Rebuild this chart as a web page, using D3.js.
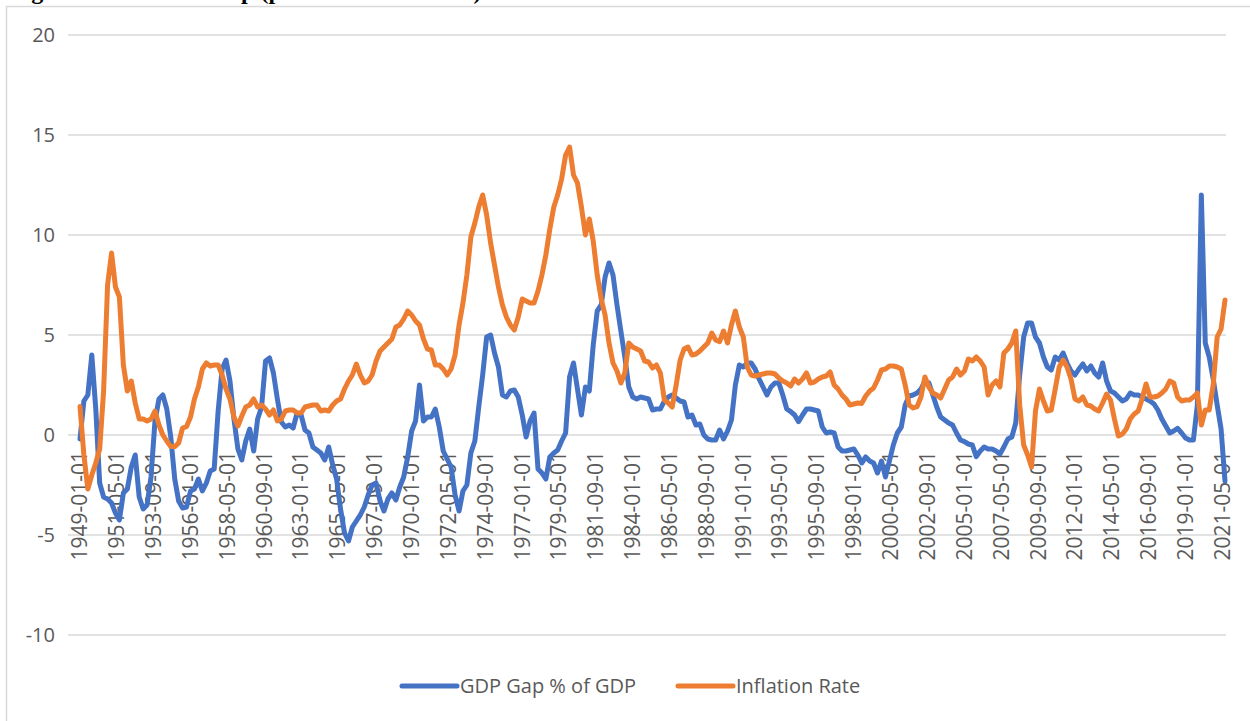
<!DOCTYPE html>
<meta charset="utf-8">
<style>

body {
  margin: 0;
  background: #fff;
}

text {
  font-family: "Open Sans", sans-serif;
  fill: #595959;
}

.title {
  font-family: "Liberation Serif", serif;
  font-weight: bold;
  fill: #000;
}

.grid line {
  stroke: #d9d9d9;
  stroke-width: 1.5;
}

.series {
  fill: none;
  stroke-width: 5;
  stroke-linejoin: round;
  stroke-linecap: round;
}

</style>
<svg width="1250" height="721"></svg>
<script src="https://d3js.org/d3.v7.min.js"></script>

<script>

// quarterly series, first quarter = startDate
var startDate = "1949-01-01";

var gdpGap = [
  -0.2, 1.7, 2.0, 4.0, 1.3, -2.4, -3.1, -3.2, -3.4, -3.9,
  -4.25, -2.9, -2.7, -1.6, -1.0, -3.1, -3.7, -3.5, -2.1, 0.7,
  1.8, 2.0, 1.3, -0.1, -2.2, -3.3, -3.65, -3.6, -2.8, -2.7,
  -2.2, -2.8, -2.4, -1.8, -1.7, 1.2, 3.3, 3.75, 2.7, 0.8,
  -0.7, -1.25, -0.3, 0.3, -0.8, 0.8, 1.4, 3.7, 3.85, 3.1,
  1.8, 0.65, 0.4, 0.5, 0.35, 1.1, 1.0, 0.25, 0.1, -0.6,
  -0.75, -0.9, -1.25, -0.6, -1.5, -2.2, -3.7, -4.9, -5.3, -4.6,
  -4.3, -4.0, -3.6, -3.0, -2.5, -2.4, -3.3, -3.8, -3.2, -2.9,
  -3.25, -2.6, -2.1, -1.1, 0.2, 0.7, 2.5, 0.7, 0.9, 0.9,
  1.3, 0.4, -0.8, -1.2, -1.6, -3.0, -3.8, -2.8, -2.5, -0.9,
  -0.3, 1.4, 3.0, 4.9, 5.0, 4.1, 3.4, 2.0, 1.9, 2.2,
  2.25, 1.9, 1.0, -0.1, 0.7, 1.1, -1.7, -1.9, -2.2, -1.1,
  -0.9, -0.75, -0.3, 0.1, 2.9, 3.6, 2.3, 1.0, 2.4, 2.2,
  4.5, 6.2, 6.5, 7.9, 8.6, 8.0, 6.5, 5.2, 3.9, 2.4,
  1.9, 1.8, 1.9, 1.85, 1.8, 1.25, 1.3, 1.3, 1.7, 1.9,
  2.0, 1.85, 1.7, 1.65, 0.9, 1.0, 0.5, 0.55, 0.0, -0.2,
  -0.25, -0.25, 0.25, -0.2, 0.2, 0.75, 2.5, 3.5, 3.4, 3.6,
  3.6, 3.3, 2.8, 2.4, 2.0, 2.4, 2.6, 2.6, 2.0, 1.3,
  1.17, 1.0, 0.67, 1.0, 1.3, 1.3, 1.25, 1.2, 0.4, 0.1,
  0.15, 0.1, -0.6, -0.8, -0.8, -0.75, -0.7, -1.0, -1.4, -1.1,
  -1.3, -1.4, -1.9, -1.3, -2.1, -1.3, -0.5, 0.1, 0.4, 1.5,
  1.95, 2.0, 2.1, 2.3, 2.7, 2.6, 2.0, 1.4, 0.9, 0.75,
  0.6, 0.5, 0.1, -0.25, -0.33, -0.45, -0.5, -1.08, -0.8, -0.6,
  -0.7, -0.7, -0.8, -0.95, -0.6, -0.2, -0.1, 0.6, 3.0, 4.9,
  5.6, 5.6, 4.9, 4.6, 3.9, 3.4, 3.25, 3.9, 3.75, 4.1,
  3.6, 3.2, 3.0, 3.3, 3.55, 3.2, 3.45, 3.1, 2.9, 3.6,
  2.7, 2.2, 2.1, 1.9, 1.7, 1.8, 2.1, 2.0, 2.0, 1.9,
  1.8, 1.7, 1.55, 1.25, 0.8, 0.45, 0.1, 0.2, 0.33, 0.1,
  -0.15, -0.25, -0.25, 1.5, 12.0, 4.6, 3.9, 2.8, 1.5, 0.3,
  -2.3
];

var inflation = [
  1.42, -1.0, -2.7, -2.0, -1.4, -0.7, 2.2, 7.5, 9.1, 7.4,
  6.9, 3.5, 2.2, 2.7, 1.6, 0.8, 0.8, 0.7, 0.8, 1.2,
  0.5, 0.0, -0.3, -0.58, -0.58, -0.4, 0.35, 0.42, 0.9, 1.8,
  2.4, 3.3, 3.6, 3.45, 3.5, 3.5, 3.0, 2.3, 1.8, 0.9,
  0.45, 0.95, 1.4, 1.5, 1.8, 1.4, 1.5, 1.3, 1.0, 1.25,
  0.7, 0.8, 1.2, 1.25, 1.25, 1.1, 1.1, 1.4, 1.45, 1.5,
  1.5, 1.2, 1.25, 1.2, 1.5, 1.7, 1.8, 2.3, 2.7, 3.0,
  3.55, 3.0, 2.6, 2.7, 3.0, 3.7, 4.2, 4.4, 4.6, 4.8,
  5.4, 5.5, 5.8, 6.2, 6.0, 5.7, 5.5, 4.8, 4.3, 4.25,
  3.5, 3.5, 3.3, 3.0, 3.3, 4.0, 5.5, 6.6, 8.0, 9.9,
  10.6, 11.4, 12.0, 11.0, 9.6, 8.5, 7.4, 6.5, 5.9, 5.5,
  5.25, 5.9, 6.8, 6.7, 6.6, 6.6, 7.2, 8.0, 9.0, 10.3,
  11.4, 12.0, 12.8, 14.0, 14.4, 13.0, 12.6, 11.4, 10.0, 10.8,
  9.7, 8.0, 6.8, 6.0, 4.6, 3.6, 3.2, 2.6, 3.1, 4.6,
  4.4, 4.3, 4.2, 3.7, 3.65, 3.35, 3.5, 3.1, 1.75, 1.6,
  1.4, 2.5, 3.75, 4.3, 4.4, 4.0, 4.05, 4.2, 4.4, 4.6,
  5.1, 4.75, 4.67, 5.2, 4.6, 5.5, 6.2, 5.4, 4.9, 3.4,
  3.0, 2.95, 3.0, 3.05, 3.1, 3.1, 3.05, 2.85, 2.7, 2.6,
  2.45, 2.8, 2.6, 2.8, 3.1, 2.6, 2.65, 2.8, 2.9, 2.95,
  3.15, 2.5, 2.3, 2.0, 1.8, 1.5, 1.55, 1.6, 1.58, 1.95,
  2.2, 2.35, 2.75, 3.25, 3.3, 3.45, 3.45, 3.4, 3.3, 2.5,
  1.5, 1.35, 1.42, 1.9, 2.9, 2.4, 2.1, 2.0, 1.85, 2.3,
  2.75, 2.9, 3.3, 3.0, 3.2, 3.8, 3.7, 3.9, 3.7, 3.4,
  2.0, 2.5, 2.7, 2.4, 4.1, 4.3, 4.6, 5.2, 1.5, -0.5,
  -1.0, -1.6, 1.2, 2.3, 1.7, 1.2, 1.25, 2.3, 3.4, 3.75,
  3.4, 2.8, 1.8, 1.7, 1.9, 1.5, 1.45, 1.3, 1.2, 1.6,
  2.05, 1.75, 0.8, -0.05, 0.05, 0.3, 0.8, 1.05, 1.2, 1.8,
  2.55, 1.9, 1.9, 1.95, 2.1, 2.3, 2.7, 2.6, 1.9, 1.7,
  1.75, 1.75, 1.9, 2.1, 0.5, 1.25, 1.25, 2.5, 4.9, 5.3,
  6.75
];

var seriesNames = ["GDP Gap % of GDP", "Inflation Rate"];
var seriesColors = ["#4472c4", "#ed7d31"];

var yTicks = [-10, -5, 0, 5, 10, 15, 20];

var xTickLabels = ["1949-01-01", "1951-05-01", "1953-09-01", "1956-01-01", "1958-05-01",
  "1960-09-01", "1963-01-01", "1965-05-01", "1967-09-01", "1970-01-01", "1972-05-01",
  "1974-09-01", "1977-01-01", "1979-05-01", "1981-09-01", "1984-01-01", "1986-05-01",
  "1988-09-01", "1991-01-01", "1993-05-01", "1995-09-01", "1998-01-01", "2000-05-01",
  "2002-09-01", "2005-01-01", "2007-05-01", "2009-09-01", "2012-01-01", "2014-05-01",
  "2016-09-01", "2019-01-01", "2021-05-01"];


var svg = d3.select("svg"),
    width = +svg.attr("width"),
    height = +svg.attr("height");

var parseDate = d3.timeParse("%Y-%m-%d");
var t0 = parseDate(startDate);

var dates = gdpGap.map(function(d, i) { return d3.timeMonth.offset(t0, 3 * i); });

var x = d3.scaleTime()
    .domain([t0, dates[dates.length - 1]])
    .range([80, 1225]);

var y = d3.scaleLinear()
    .domain([-10, 20])
    .range([635, 35]);

var gridLeft = 68, gridRight = 1226;

// chart area border (runs off the bottom / right of the crop)
svg.append("rect")
    .attr("x", 6.5)
    .attr("y", 6.5)
    .attr("width", width + 40)
    .attr("height", height + 40)
    .style("fill", "none")
    .style("stroke", "#d9d9d9")
    .style("stroke-width", 1.5);

// title, mostly cut off above the crop (as in the source)
svg.append("text")
    .attr("class", "title")
    .attr("x", 10)
    .attr("y", -1)
    .style("font-size", "24px")
    .text("Figure 1: The GDP Gap (percent of real GDP)");

// gridlines
svg.append("g")
    .attr("class", "grid")
  .selectAll("line")
  .data(yTicks)
  .enter().append("line")
    .attr("x1", gridLeft)
    .attr("x2", gridRight)
    .attr("y1", function(d) { return y(d); })
    .attr("y2", function(d) { return y(d); });

// y tick labels
svg.append("g")
  .selectAll("text")
  .data(yTicks)
  .enter().append("text")
    .attr("x", 55)
    .attr("y", function(d) { return y(d); })
    .attr("dy", "0.35em")
    .attr("text-anchor", "end")
    .style("font-size", "20px")
    .text(function(d) { return d; });

// x tick labels, rotated, sitting under the zero line
svg.append("g")
  .selectAll("text")
  .data(xTickLabels)
  .enter().append("text")
    .attr("transform", function(d) {
      return "translate(" + x(parseDate(d)) + "," + 451 + ") rotate(-90)";
    })
    .attr("dy", "0.35em")
    .attr("text-anchor", "end")
    .style("font-size", "21px")
    .text(function(d) { return d; });

var line = d3.line()
    .x(function(d) { return x(d.date); })
    .y(function(d) { return y(d.value); });

var series = [gdpGap, inflation].map(function(vals) {
  return vals.map(function(v, i) { return {date: dates[i], value: v}; });
});

// orange is drawn over blue like in excel
svg.append("g")
  .selectAll("path")
  .data(series)
  .enter().append("path")
    .attr("class", "series")
    .style("stroke", function(d, i) { return seriesColors[i]; })
    .attr("d", line);

// legend
var legendX = [402, 678], legendY = 686;

var legend = svg.append("g")
  .selectAll("g")
  .data(seriesNames)
  .enter().append("g")
    .attr("transform", function(d, i) { return "translate(" + legendX[i] + "," + legendY + ")"; });

legend.append("line")
    .attr("x1", 0)
    .attr("x2", 55)
    .style("stroke", function(d, i) { return seriesColors[i]; })
    .style("stroke-width", 5)
    .style("stroke-linecap", "round");

legend.append("text")
    .attr("x", 58)
    .attr("dy", "0.35em")
    .style("font-size", "20px")
    .text(function(d) { return d; });

</script>
